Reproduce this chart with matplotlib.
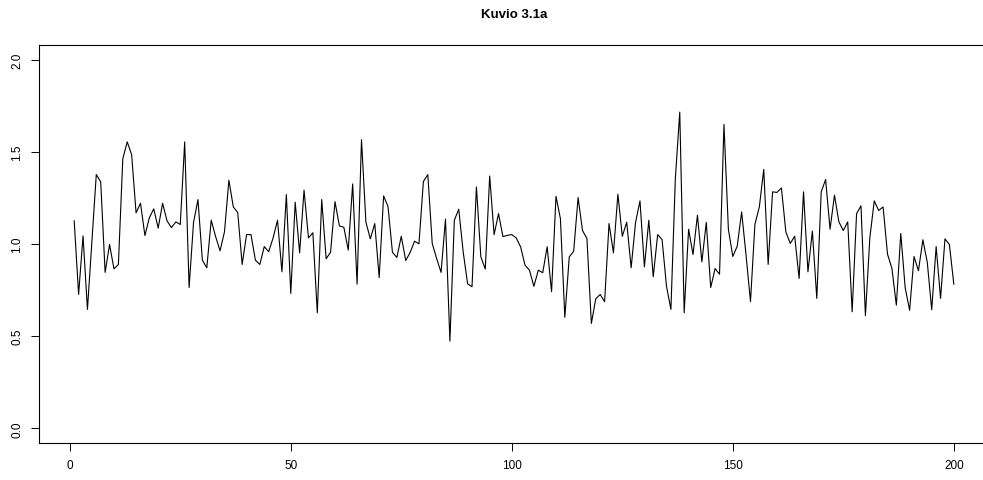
import numpy as np
import matplotlib
matplotlib.use("Agg")
import matplotlib.pyplot as plt

# values, t = 1..200
series = [
    1.126, 0.726, 1.044, 0.645, 1.010, 1.377, 1.337, 0.846, 0.997, 0.865,
    0.889, 1.463, 1.554, 1.485, 1.169, 1.221, 1.046, 1.142, 1.191, 1.086,
    1.221, 1.126, 1.089, 1.120, 1.106, 1.554, 0.764, 1.117, 1.241, 0.912,
    0.871, 1.129, 1.040, 0.963, 1.066, 1.346, 1.201, 1.171, 0.889, 1.051,
    1.051, 0.912, 0.889, 0.986, 0.958, 1.033, 1.129, 0.849, 1.268, 0.732,
    1.227, 0.952, 1.292, 1.033, 1.061, 0.627, 1.241, 0.920, 0.955, 1.230,
    1.098, 1.091, 0.967, 1.326, 0.782, 1.566, 1.118, 1.028, 1.111, 0.818,
    1.261, 1.203, 0.955, 0.927, 1.042, 0.910, 0.954, 1.015, 1.001, 1.339,
    1.377, 1.003, 0.921, 0.846, 1.135, 0.473, 1.129, 1.189, 0.958, 0.784,
    0.768, 1.310, 0.930, 0.864, 1.369, 1.051, 1.165, 1.040, 1.047, 1.051,
    1.033, 0.984, 0.885, 0.858, 0.770, 0.858, 0.844, 0.985, 0.741, 1.259,
    1.138, 0.602, 0.930, 0.961, 1.252, 1.073, 1.030, 0.569, 0.703, 0.726,
    0.687, 1.111, 0.952, 1.270, 1.042, 1.118, 0.871, 1.117, 1.234, 0.876,
    1.129, 0.822, 1.051, 1.024, 0.771, 0.645, 1.355, 1.716, 0.627, 1.080,
    0.943, 1.156, 0.903, 1.117, 0.764, 0.867, 0.836, 1.649, 1.080, 0.932,
    0.988, 1.174, 0.939, 0.687, 1.106, 1.201, 1.405, 0.889, 1.283, 1.280,
    1.304, 1.066, 1.003, 1.042, 0.813, 1.283, 0.849, 1.070, 0.705, 1.283,
    1.350, 1.080, 1.265, 1.120, 1.073, 1.120, 0.632, 1.165, 1.207, 0.611,
    1.033, 1.234, 1.182, 1.201, 0.945, 0.867, 0.668, 1.057, 0.762, 0.640,
    0.932, 0.855, 1.023, 0.900, 0.643, 0.986, 0.705, 1.028, 0.997, 0.782,
]
t = np.arange(1, len(series) + 1)

x_ticks = [0, 50, 100, 150, 200]
y_ticks = [0.0, 0.5, 1.0, 1.5, 2.0]
y_labels = ["0.0", "0.5", "1.0", "1.5", "2.0"]

plt.rcParams['font.family'] = ['Liberation Sans', 'DejaVu Sans']

fig = plt.figure(figsize=(9.83, 4.81), dpi=100)
# R style box, right edge falls just outside the picture
ax = fig.add_axes([39 / 983, 37 / 481, 950 / 983, 398 / 481])

ax.plot(t, series, color='black', linewidth=0.8)

ax.set_xlim(-6.96, 207.96)
ax.set_ylim(-0.08, 2.08)
ax.set_xticks(x_ticks)
ax.set_yticks(y_ticks)
ax.set_yticklabels(y_labels, rotation=90, va='center')
ax.tick_params(direction='out', length=5.5, width=0.7, labelsize=8.5, pad=6)

for sp in ax.spines.values():
    sp.set_linewidth(0.8)

fig.text(514 / 983, 1 - 15 / 481, "Kuvio 3.1a", ha='center', va='center',
         fontsize=9.5, fontweight='bold')

fig.savefig("out.png", dpi=100)
